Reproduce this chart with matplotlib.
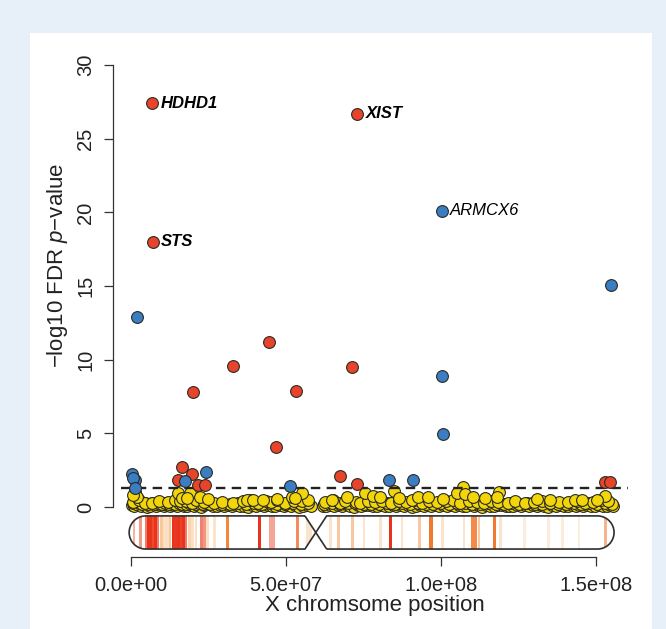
import numpy as np
import matplotlib
matplotlib.use("Agg")
import matplotlib.pyplot as plt
from matplotlib.patches import Rectangle, PathPatch
from matplotlib.path import Path

plt.rcParams['font.family'] = ['Liberation Sans', 'DejaVu Sans']
plt.rcParams['mathtext.fontset'] = 'custom'
plt.rcParams['mathtext.rm'] = 'Liberation Sans'
plt.rcParams['mathtext.it'] = 'Liberation Sans:italic'

# ---- data (positions in Mb, values are -log10 FDR p) ----
yellow_base_x = [0.2, 1.1, 2.0, 3.2, 4.1, 5.0, 6.2, 7.3, 8.1, 9.4,
                 10.6, 11.5, 12.7, 13.6, 14.8, 15.9, 17.1, 18.0, 19.2, 20.3,
                 21.4, 22.6, 23.7, 24.9, 26.3, 27.6, 28.8, 30.1, 31.4, 32.6,
                 33.9, 35.2, 36.4, 37.8, 39.0, 40.3, 41.5, 42.9, 44.1, 45.4,
                 46.6, 47.9, 49.2, 50.4, 51.7, 53.0, 54.2, 55.5, 56.7, 57.9,
                 61.9, 63.0, 64.3, 65.5, 66.8, 68.0, 69.3, 70.5, 71.8, 73.1,
                 74.3, 75.6, 76.8, 78.1, 79.3, 80.6, 81.8, 83.1, 84.4, 85.6,
                 86.9, 88.1, 89.4, 90.6, 91.9, 93.2, 94.4, 95.7, 96.9, 98.2,
                 99.4, 100.7, 101.9, 103.2, 104.4, 105.7, 107.0, 108.2, 109.5, 110.7,
                 112.0, 113.2, 114.5, 115.8, 117.0, 118.3, 119.5, 120.8, 122.0, 123.3,
                 124.5, 125.8, 127.1, 128.3, 129.6, 130.8, 132.1, 133.3, 134.6, 135.9,
                 137.1, 138.4, 139.6, 140.9, 142.1, 143.4, 144.6, 145.9, 147.2, 148.4,
                 149.7, 150.9, 152.2, 153.4, 154.6, 155.4]
yellow_base_y = [0.12, 0.05, 0.18, 0.08, 0.15, 0.03, 0.10, 0.20, 0.06, 0.14,
                 0.09, 0.17, 0.04, 0.12, 0.07, 0.19, 0.10, 0.05, 0.15, 0.08,
                 0.13, 0.03, 0.11, 0.18, 0.06, 0.09, 0.15, 0.04, 0.12, 0.07,
                 0.16, 0.05, 0.10, 0.02, 0.14, 0.08, 0.11, 0.06, 0.17, 0.04,
                 0.09, 0.13, 0.05, 0.16, 0.08, 0.12, 0.03, 0.10, 0.15, 0.07,
                 0.10, 0.04, 0.15, 0.08, 0.12, 0.05, 0.18, 0.09, 0.03, 0.14,
                 0.07, 0.11, 0.16, 0.05, 0.10, 0.13, 0.06, 0.09, 0.17, 0.04,
                 0.12, 0.08, 0.15, 0.03, 0.10, 0.14, 0.06, 0.11, 0.05, 0.16,
                 0.09, 0.13, 0.04, 0.12, 0.07, 0.15, 0.10, 0.05, 0.18, 0.08,
                 0.11, 0.03, 0.14, 0.09, 0.06, 0.12, 0.16, 0.05, 0.10, 0.07,
                 0.13, 0.04, 0.15, 0.08, 0.11, 0.06, 0.17, 0.09, 0.03, 0.12,
                 0.07, 0.14, 0.05, 0.10, 0.16, 0.08, 0.12, 0.04, 0.15, 0.09,
                 0.06, 0.13, 0.10, 0.05, 0.14, 0.08]

yellow_low_x = [0.6, 1.6, 2.6, 3.7, 4.6, 5.6, 6.7, 7.8, 8.8, 10.0,
                11.1, 12.2, 13.2, 14.2, 15.4, 16.5, 17.6, 18.6, 19.7, 20.9,
                22.0, 23.1, 24.3, 25.6, 29.4, 32.0, 34.5, 37.1, 39.6, 42.2,
                44.8, 47.2, 49.8, 52.4, 54.8, 57.2, 62.4, 64.9, 67.4, 69.9,
                72.4, 75.0, 77.5, 80.0, 82.5, 85.0, 87.5, 90.0, 92.5, 95.0,
                97.5, 100.0, 102.5, 105.0, 107.6, 110.1, 112.6, 115.1, 117.6, 120.2,
                122.7, 125.1, 127.7, 130.2, 132.7, 135.2, 137.7, 140.3, 142.8, 145.3,
                147.8, 150.3, 152.8, 155.0]
yellow_low_y = [0.25, 0.22, 0.28, 0.20, 0.26, 0.23, 0.30, 0.21, 0.27, 0.24,
                0.29, 0.22, 0.26, 0.20, 0.28, 0.24, 0.22, 0.30, 0.25, 0.21,
                0.27, 0.23, 0.26, 0.20, 0.24, 0.22, 0.27, 0.21, 0.25, 0.23,
                0.28, 0.20, 0.24, 0.26, 0.22, 0.29, 0.23, 0.26, 0.21, 0.25,
                0.28, 0.22, 0.24, 0.20, 0.27, 0.23, 0.25, 0.21, 0.28, 0.24,
                0.22, 0.26, 0.20, 0.25, 0.29, 0.23, 0.21, 0.26, 0.24, 0.22,
                0.27, 0.20, 0.25, 0.23, 0.21, 0.26, 0.24, 0.22, 0.28, 0.20,
                0.25, 0.23, 0.27, 0.22]

yellow_mid_x = [0.8, 2.5, 4.6, 6.8, 9.0, 12.0, 14.2, 15.8, 17.6, 19.8,
                21.0, 23.5, 26.9, 29.5, 33.0, 36.0, 38.4, 41.0, 43.6, 45.0,
                47.2, 49.8, 52.5, 55.0, 57.2, 62.5, 65.0, 67.4, 69.0, 72.5,
                74.0, 76.5, 78.8, 81.0, 84.0, 86.5, 88.8, 91.2, 93.8, 96.0,
                98.8, 101.5, 103.8, 106.2, 108.9, 111.5, 113.8, 116.0, 118.5, 121.5,
                124.0, 127.0, 130.0, 132.5, 135.0, 138.0, 141.0, 144.0, 146.5, 149.0,
                151.5, 153.8]
yellow_mid_y = [0.35, 0.45, 0.30, 0.28, 0.40, 0.32, 0.50, 0.38, 0.42, 0.30,
                0.48, 0.36, 0.27, 0.33, 0.30, 0.38, 0.45, 0.30, 0.40, 0.35,
                0.48, 0.30, 0.42, 0.38, 0.50, 0.32, 0.45, 0.30, 0.40, 0.36,
                0.28, 0.44, 0.33, 0.38, 0.30, 0.42, 0.35, 0.48, 0.30, 0.40,
                0.32, 0.38, 0.45, 0.30, 0.42, 0.36, 0.28, 0.40, 0.33, 0.30,
                0.38, 0.27, 0.35, 0.42, 0.30, 0.36, 0.32, 0.40, 0.28, 0.35,
                0.45, 0.38]

yellow_up_x = [1.3, 1.8, 0.6, 15.3, 19.0, 16.3, 22.3, 24.9, 18.0, 37.3,
               39.5, 42.7, 47.0, 51.8, 55.0, 53.0, 64.7, 69.6, 75.5, 78.2,
               80.3, 84.8, 90.5, 92.7, 95.9, 100.7, 107.2, 105.0, 107.7, 110.4,
               114.2, 118.8, 118.0, 130.9, 135.2, 143.2, 145.4, 152.9, 150.2, 86.5]
yellow_up_y = [1.04, 0.70, 0.85, 0.93, 0.97, 0.59, 0.70, 0.55, 0.62, 0.48,
               0.48, 0.48, 0.52, 0.70, 0.93, 0.60, 0.48, 0.70, 0.93, 0.75,
               0.70, 1.07, 0.48, 0.70, 0.70, 0.55, 1.34, 0.93, 0.88, 0.70,
               0.59, 1.04, 0.70, 0.52, 0.50, 0.45, 0.48, 0.75, 0.50, 0.60]

red_x = [6.8, 7.0, 72.9, 44.5, 32.9, 71.3, 53.2, 20.0, 46.7, 67.5,
         73.0, 152.9, 154.4, 16.5, 15.3, 19.6, 21.7, 23.9]
red_y = [27.4, 18.0, 26.7, 11.2, 9.55, 9.5, 7.85, 7.8, 4.1, 2.1,
         1.57, 1.68, 1.68, 2.7, 1.86, 2.25, 1.52, 1.52]

blue_x = [100.3, 154.8, 1.9, 100.3, 100.6, 83.3, 90.8, 51.3, 0.2, 1.2,
          0.5, 1.2, 17.3, 24.2]
blue_y = [20.1, 15.1, 12.9, 8.9, 4.93, 1.86, 1.86, 1.45, 2.25, 1.86,
          2.0, 1.3, 1.75, 2.36]

gene_names = ["HDHD1", "STS", "XIST", "ARMCX6"]
gene_x = [6.8, 7.0, 72.9, 100.3]
gene_y = [27.4, 18.0, 26.7, 20.1]
gene_bold = [True, True, True, False]

fdr_cut = 1.3  # -log10(0.05)

# ideogram bands: start (Mb), width (Mb), colour
band_start = [0.5, 2.6, 4.5, 5.3, 6.0, 6.8, 7.5, 8.3, 9.4, 10.4, 11.3, 12.1,
              13.2, 14.0, 14.9, 15.7, 16.5, 17.3, 18.4, 19.5, 20.5, 22.1, 23.1, 24.2,
              26.5, 30.7, 40.9, 44.6, 45.6, 53.2, 56.4, 57.4,
              64.0, 66.5, 71.0, 74.7, 80.1, 83.1, 87.0, 92.5, 96.2, 100.0, 107.0,
              109.6, 110.7, 111.9, 116.6, 118.8, 126.5, 134.3, 138.7, 144.1, 152.6]
band_width = [0.9, 0.9, 0.8, 0.8, 0.9, 0.8, 0.8, 0.8, 0.9, 0.8, 0.8, 0.9,
              0.9, 0.9, 0.9, 0.9, 0.8, 0.8, 0.9, 0.8, 0.8, 1.0, 1.0, 0.8,
              0.8, 0.9, 1.0, 0.9, 1.0, 1.0, 0.9, 0.9,
              0.8, 0.9, 0.9, 0.8, 0.8, 1.0, 0.8, 0.9, 1.1, 0.8, 0.8,
              1.0, 1.0, 0.8, 1.1, 0.8, 0.8, 0.8, 0.8, 0.8, 1.0]
band_color = ["#f6b3a4", "#f29a88", "#f07a66", "#e8331f", "#e8331f", "#ec4b25", "#e8331f",
              "#f07a66", "#f8c79a", "#fbe0c4", "#fbe0c4", "#f8c79a",
              "#e8331f", "#e83a22", "#e8331f", "#ec4326", "#e8331f", "#f07a66",
              "#f9d2b0", "#fbe0c4", "#fbe0c4", "#f08070", "#f29585", "#fbe0c4",
              "#fbe3cc", "#f2873e", "#e8331f", "#f4a598", "#f4a598", "#f28c5a",
              "#fbe3cc", "#fbe3cc",
              "#fbe3cc", "#f9c7a0", "#f9c7a0", "#fbe3cc", "#fbe3cc", "#e8331f", "#fbe3cc",
              "#f9c7a0", "#f07a30", "#fbe3cc", "#fbe3cc",
              "#f48a4a", "#f48a4a", "#f9c7a0", "#f07a30", "#fbe3cc", "#fbecdc", "#fbecdc",
              "#fbecdc", "#fbecdc", "#f6b48a"]

# ---- figure ----
fig = plt.figure(figsize=(6.66, 6.29), dpi=100)
fig.patch.set_facecolor("#e7eff8")
W, H = 666, 629
fig.patches.append(Rectangle((30 / W, 0), 622 / W, 596 / H, transform=fig.transFigure,
                             facecolor="white", edgecolor="none", zorder=-10))

ax = fig.add_axes([121 / W, 72 / H, 507 / W, 507 / H])
ax.set_facecolor("none")
ax.set_xlim(-3.23, 160.3)
ax.set_ylim(-3.39, 31.03)

mk = dict(s=72, edgecolors="#2b2b22", linewidths=0.8, zorder=3)
yel = "#f2d60a"
ax.scatter(yellow_base_x, yellow_base_y, c=yel, **mk)
ax.scatter(yellow_low_x, yellow_low_y, c=yel, **mk)
ax.scatter(yellow_mid_x, yellow_mid_y, c=yel, **mk)
ax.scatter(yellow_up_x, yellow_up_y, c=yel, **mk)
ax.axhline(fdr_cut, color="#222222", lw=1.7, dashes=(4, 2.7), zorder=4)
ax.scatter(red_x, red_y, c="#e8432b", **dict(mk, zorder=5))
ax.scatter(blue_x, blue_y, c="#3b7dc2", **dict(mk, zorder=5))

for name, gx, gy, bold in zip(gene_names, gene_x, gene_y, gene_bold):
    ax.annotate(name, (gx, gy), xytext=(6, 0), textcoords="offset points",
                ha="left", va="center", fontsize=12, style="italic",
                fontweight="bold" if bold else "normal", zorder=6)

# chromosome ideogram
top, bot = -0.6, -2.85
mid = (top + bot) / 2
r_y = (top - bot) / 2
r_x = r_y * 14.73 / 3.1  # half-height in px converted to Mb
left_end, right_end = -0.6, 155.8
cen_l, cen_c, cen_r = 56.1, 59.6, 63.1
t = np.linspace(np.pi / 2, 3 * np.pi / 2, 30)
p_arm = [(cen_l, top)] + [(left_end + r_x + r_x * np.cos(a), mid + r_y * np.sin(a)) for a in t] + \
        [(cen_l, bot), (cen_c, mid), (cen_l, top)]
t2 = np.linspace(-np.pi / 2, np.pi / 2, 30)
q_arm = [(cen_r, bot)] + [(right_end - r_x + r_x * np.cos(a), mid + r_y * np.sin(a)) for a in t2] + \
        [(cen_r, top), (cen_c, mid), (cen_r, bot)]
for arm in (p_arm, q_arm):
    clip = PathPatch(Path(arm), facecolor="white", edgecolor="none", zorder=2)
    ax.add_patch(clip)
    bars = ax.bar(band_start, top - bot, width=band_width, bottom=bot, align="edge",
                  color=band_color, edgecolor="none", zorder=2.1)
    for b in bars:
        b.set_clip_path(clip)
    ax.add_patch(PathPatch(Path(arm), facecolor="none", edgecolor="#2e2e2e", lw=1.2,
                           zorder=2.2, joinstyle="round"))

# axes in R style
for s in ("top", "right"):
    ax.spines[s].set_visible(False)
ax.spines["left"].set_position(("outward", 6))
ax.spines["left"].set_bounds(0, 30)
ax.spines["bottom"].set_bounds(0, 150)
for s in ("left", "bottom"):
    ax.spines[s].set_color("#333333")
    ax.spines[s].set_linewidth(0.9)
ax.set_yticks([0, 5, 10, 15, 20, 25, 30])
ax.set_yticklabels(["0", "5", "10", "15", "20", "25", "30"], rotation=90, va="center")
ax.set_xticks([0, 50, 100, 150])
ax.set_xticklabels(["0.0e+00", "5.0e+07", "1.0e+08", "1.5e+08"])
ax.tick_params(direction="out", length=6.5, width=0.9, color="#333333",
               labelsize=14.5, labelcolor="#222222")
ax.tick_params(axis="y", pad=6)
ax.tick_params(axis="x", pad=7)

ax.set_xlabel("X chromsome position", fontsize=16, color="#222222", labelpad=0)
fig.text(58 / W, 1 - 265 / H, "\u2212log10 FDR $p$\u2212value", rotation=90,
         ha="center", va="center", fontsize=16, color="#222222")

fig.savefig("out.png", dpi=100, facecolor=fig.get_facecolor())
